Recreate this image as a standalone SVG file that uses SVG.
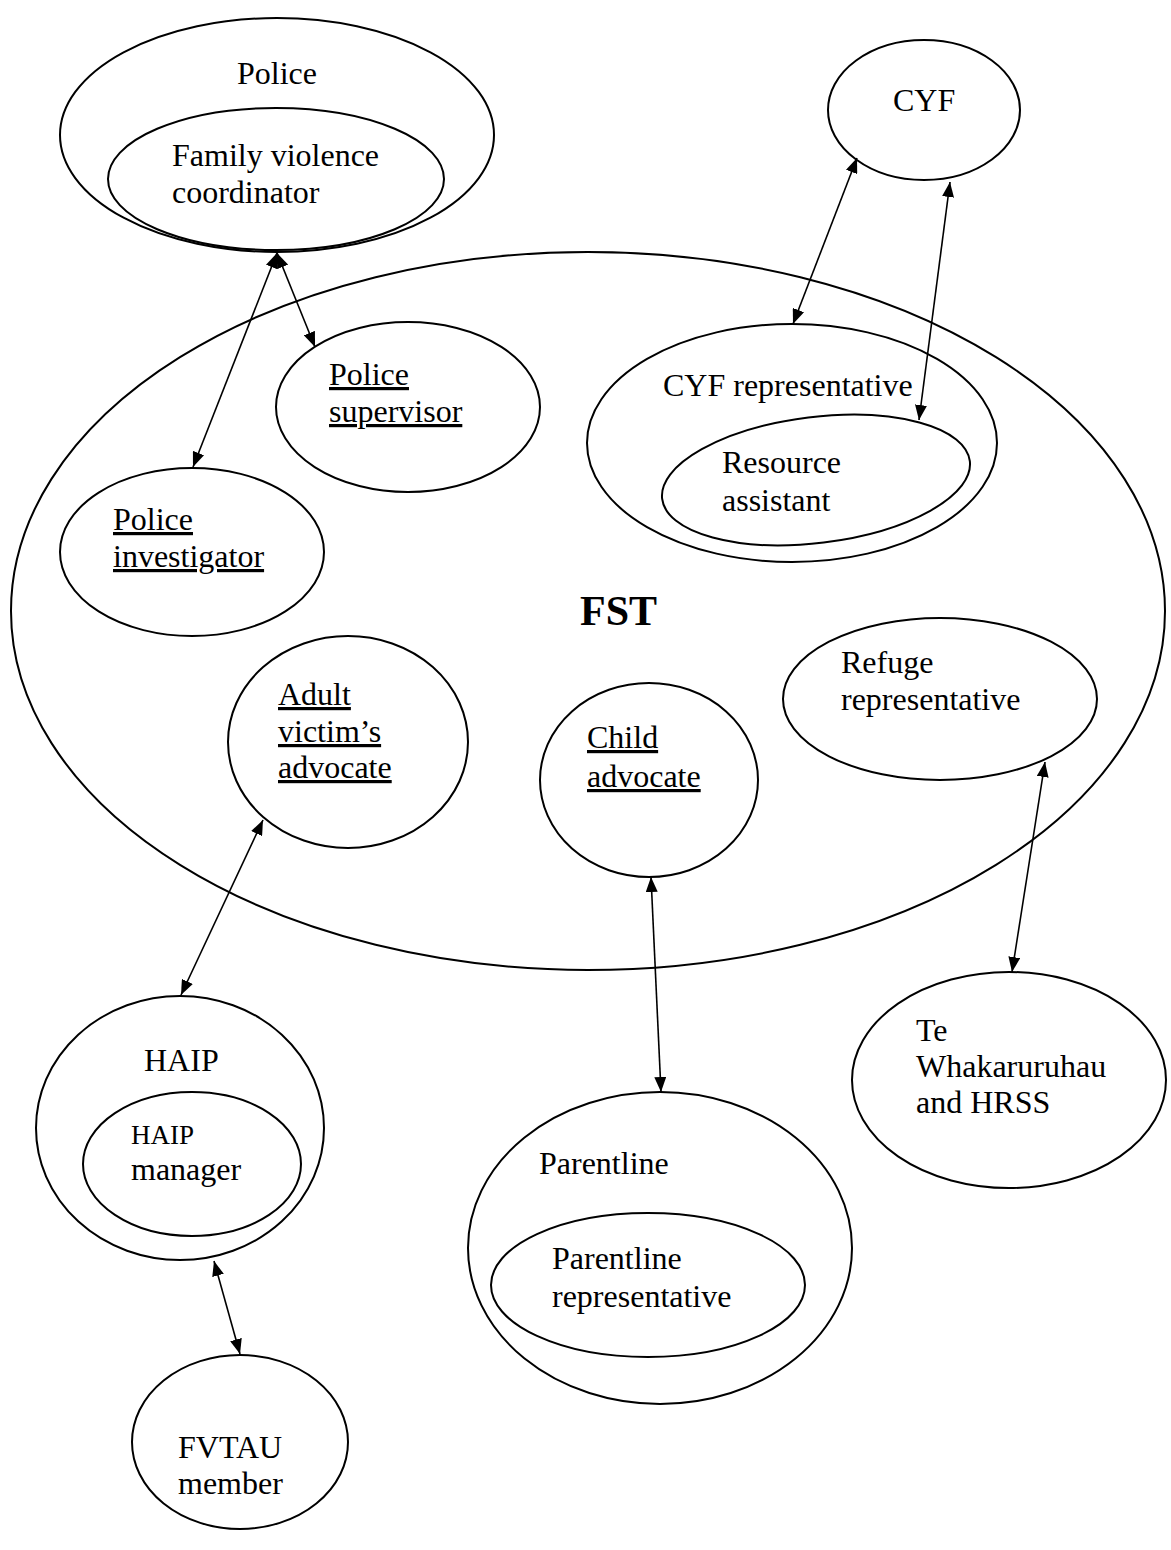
<svg xmlns="http://www.w3.org/2000/svg" width="1171" height="1550" viewBox="0 0 1171 1550">
<style>
.n{fill:none;stroke:#000;stroke-width:2}
.t{font-family:"Liberation Serif","Times New Roman",serif;font-size:32px;fill:#000}
.u{text-decoration:underline}
.c{stroke:#000;stroke-width:1.6;fill:none;marker-start:url(#ah);marker-end:url(#ah)}
</style>
<defs>
<marker id="ah" markerUnits="userSpaceOnUse" markerWidth="16" markerHeight="12" refX="15" refY="6" orient="auto-start-reverse">
<path d="M0,0 L15,6 L0,12 z" fill="#000"/>
</marker>
</defs>
<rect width="1171" height="1550" fill="#fff"/>
<g id="fst">
<ellipse class="n" cx="588" cy="611" rx="577" ry="359"/>
<text class="t" x="580" y="625" style="font-size:42px;font-weight:bold">FST</text>
</g>
<g id="police">
<ellipse class="n" cx="277" cy="135" rx="217" ry="117"/>
<text class="t" x="237" y="84">Police</text>
</g>
<g id="fv-coordinator">
<ellipse class="n" cx="276" cy="179" rx="168" ry="71"/>
<text class="t" x="172" y="166">Family violence</text>
<text class="t" x="172" y="203">coordinator</text>
</g>
<g id="cyf">
<ellipse class="n" cx="924" cy="110" rx="96" ry="70"/>
<text class="t" x="893" y="111">CYF</text>
</g>
<g id="police-supervisor">
<ellipse class="n" cx="408" cy="407" rx="132" ry="85"/>
<text class="t u" x="329" y="385">Police</text>
<text class="t u" x="329" y="422">supervisor</text>
</g>
<g id="police-investigator">
<ellipse class="n" cx="192" cy="552" rx="132" ry="84"/>
<text class="t u" x="113" y="530">Police</text>
<text class="t u" x="113" y="567">investigator</text>
</g>
<g id="cyf-rep">
<ellipse class="n" cx="792" cy="443" rx="205" ry="119"/>
<text class="t" x="663" y="396">CYF representative</text>
</g>
<g id="resource-assistant">
<ellipse class="n" cx="816" cy="480" rx="155" ry="63" transform="rotate(-7 816 480)"/>
<text class="t" x="722" y="473">Resource</text>
<text class="t" x="722" y="511">assistant</text>
</g>
<g id="refuge-rep">
<ellipse class="n" cx="940" cy="699" rx="157" ry="81"/>
<text class="t" x="841" y="673">Refuge</text>
<text class="t" x="841" y="710">representative</text>
</g>
<g id="adult-advocate">
<ellipse class="n" cx="348" cy="742" rx="120" ry="106"/>
<text class="t u" x="278" y="705">Adult</text>
<text class="t u" x="278" y="742">victim’s</text>
<text class="t u" x="278" y="778">advocate</text>
</g>
<g id="child-advocate">
<ellipse class="n" cx="649" cy="780" rx="109" ry="97"/>
<text class="t u" x="587" y="748">Child</text>
<text class="t u" x="587" y="787">advocate</text>
</g>
<g id="haip">
<ellipse class="n" cx="180" cy="1128" rx="144" ry="132"/>
<text class="t" x="144" y="1071">HAIP</text>
</g>
<g id="haip-manager">
<ellipse class="n" cx="192" cy="1164" rx="109" ry="72"/>
<text class="t" x="131" y="1144" style="font-size:27px">HAIP</text>
<text class="t" x="131" y="1180">manager</text>
</g>
<g id="te-whakaruruhau">
<ellipse class="n" cx="1009" cy="1080" rx="157" ry="108"/>
<text class="t" x="916" y="1041">Te</text>
<text class="t" x="916" y="1077">Whakaruruhau</text>
<text class="t" x="916" y="1113">and HRSS</text>
</g>
<g id="parentline">
<ellipse class="n" cx="660" cy="1248" rx="192" ry="156"/>
<text class="t" x="539" y="1174">Parentline</text>
</g>
<g id="parentline-rep">
<ellipse class="n" cx="648" cy="1285" rx="157" ry="72"/>
<text class="t" x="552" y="1269">Parentline</text>
<text class="t" x="552" y="1307">representative</text>
</g>
<g id="fvtau">
<ellipse class="n" cx="240" cy="1442" rx="108" ry="87"/>
<text class="t" x="178" y="1458">FVTAU</text>
<text class="t" x="178" y="1494">member</text>
</g>
<g id="connectors">
<line class="c" x1="277" y1="253" x2="193" y2="467"/>
<line class="c" x1="277" y1="253" x2="315" y2="347"/>
<line class="c" x1="857" y1="158" x2="793" y2="324"/>
<line class="c" x1="950" y1="182" x2="919" y2="420"/>
<line class="c" x1="263" y1="820" x2="181" y2="995"/>
<line class="c" x1="651" y1="877" x2="661" y2="1092"/>
<line class="c" x1="1045" y1="762" x2="1012" y2="972"/>
<line class="c" x1="214" y1="1261" x2="240" y2="1354"/>
</g>
</svg>
